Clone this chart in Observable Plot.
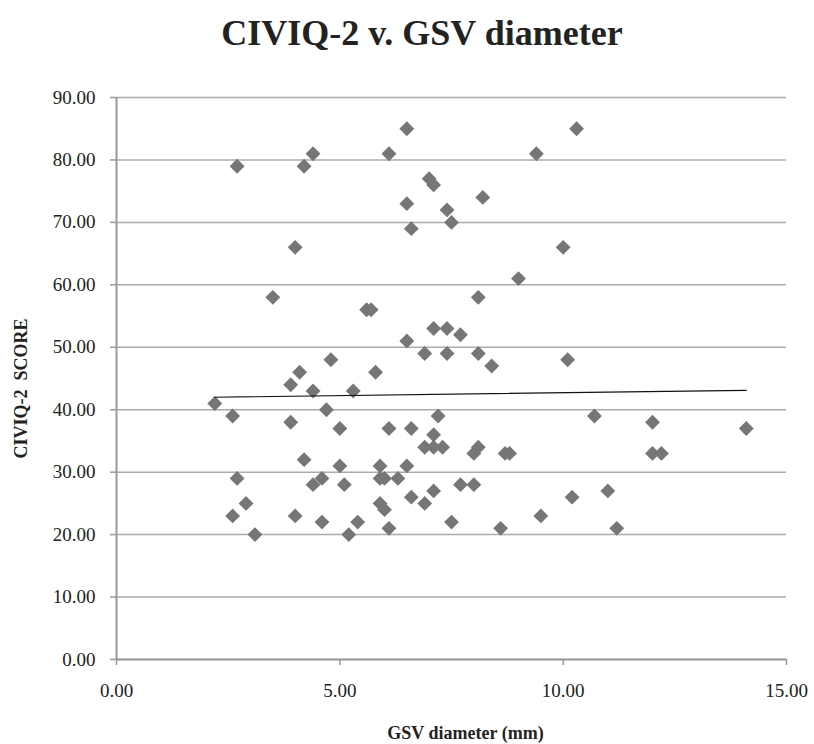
<!DOCTYPE html>
<html>
<head>
<meta charset="utf-8">
<script src="https://cdn.jsdelivr.net/npm/d3@7"></script>
<script src="https://cdn.jsdelivr.net/npm/@observablehq/plot@0.6"></script>
<style>
  body { margin: 0; background: #fff; }
  #wrap { width: 814px; height: 744px; position: relative; overflow: hidden; }
  #title { position: relative; height: 80px; }
  #title div { position: absolute; top: 15px; left: 0; width: 844px; text-align: center;
    font-family: "Liberation Serif", "DejaVu Serif", serif; font-weight: bold; font-size: 36px; line-height: 36px; color: #222; }
</style>
</head>
<body>
<div id="wrap">
  <div id="title"><div>CIVIQ-2 v. GSV diameter</div></div>
  <div id="chart"></div>
</div>
<script>
const gsvDiameter = [2.2,2.6,2.6,2.7,2.7,2.9,3.1,3.5,3.9,3.9,4.0,4.0,4.1,4.2,4.2,4.4,4.4,4.4,4.6,4.6,4.7,4.8,5.0,5.0,5.1,5.2,5.3,5.4,5.6,5.7,5.8,5.9,5.9,5.9,6.0,6.0,6.1,6.1,6.1,6.3,6.5,6.5,6.5,6.5,6.6,6.6,6.6,6.9,6.9,6.9,7.0,7.1,7.1,7.1,7.1,7.1,7.2,7.3,7.4,7.4,7.4,7.5,7.5,7.7,7.7,8.0,8.0,8.1,8.1,8.1,8.2,8.4,8.6,8.7,8.8,9.0,9.4,9.5,10.0,10.1,10.2,10.3,10.7,11.0,11.2,12.0,12.0,12.2,14.1];
const civiqScore  = [41,39,23,29,79,25,20,58,44,38,66,23,46,79,32,81,43,28,29,22,40,48,37,31,28,20,43,22,56,56,46,31,29,25,29,24,81,37,21,29,85,73,51,31,69,37,26,49,34,25,77,76,53,36,34,27,39,34,72,53,49,70,22,52,28,28,33,34,58,49,74,47,21,33,33,61,81,23,66,48,26,85,39,27,21,38,33,33,37];
// linear trend line endpoints
const trendX = [2.2, 14.1];
const trendY = [42.0, 43.1];
const xTicks = [0, 5, 10, 15];
const yTicks = [0, 10, 20, 30, 40, 50, 60, 70, 80, 90];

const data = gsvDiameter.map((x, i) => ({x, y: civiqScore[i]}));
const trend = trendX.map((x, i) => ({x, y: trendY[i]}));
const font = '"Liberation Serif", "DejaVu Serif", serif';

const chart = Plot.plot({
  width: 814,
  height: 664,
  marginTop: 17,
  marginBottom: 85,
  marginLeft: 116,
  marginRight: 28,
  style: {fontFamily: font, fontSize: "19px", color: "#222", background: "#fff"},
  x: {domain: [0, 15], ticks: xTicks, tickFormat: ".2f"},
  y: {domain: [0, 90], ticks: yTicks, tickFormat: ".2f"},
  marks: [
    Plot.gridY(yTicks, {stroke: "#ababab", strokeOpacity: 1, strokeWidth: 1.5}),
    Plot.ruleX([0], {stroke: "#999", strokeWidth: 2}),
    Plot.ruleY([0], {stroke: "#999", strokeWidth: 2}),
    Plot.axisY(yTicks, {tickSize: 6, tickPadding: 15, stroke: "#999", strokeWidth: 1.5, fontSize: 19, label: null, tickFormat: ".2f", fill: "#222"}),
    Plot.axisX(xTicks, {tickSize: 6, tickPadding: 18, stroke: "#999", strokeWidth: 1.5, fontSize: 19, label: null, tickFormat: ".2f", fill: "#222"}),
    Plot.text(["GSV diameter (mm)"], {frameAnchor: "bottom", dx: 14, dy: 79, fontWeight: "bold", fontSize: 18, fill: "#222"}),
    Plot.text(["CIVIQ-2  SCORE"], {frameAnchor: "left", textAnchor: "middle", dx: -95, dy: 10, rotate: -90, fontWeight: "bold", fontSize: 18, fill: "#222"}),
    Plot.dot(data, {x: "x", y: "y", symbol: "diamond2", r: 6.7, fill: "#767676", stroke: null}),
    Plot.line(trend, {x: "x", y: "y", stroke: "#111", strokeWidth: 1.2})
  ]
});
document.getElementById("chart").appendChild(chart);
</script>
</body>
</html>
